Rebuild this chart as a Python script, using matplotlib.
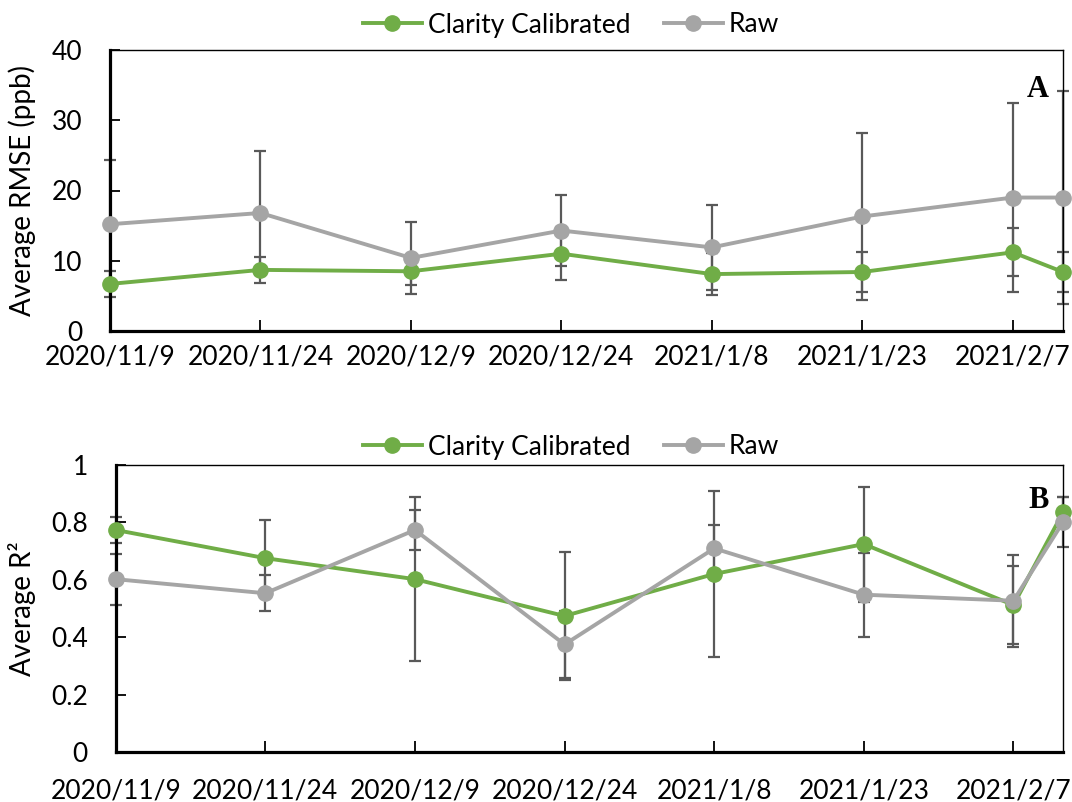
import matplotlib
matplotlib.use("Agg")
import matplotlib.pyplot as plt
from matplotlib.lines import Line2D
import datetime as dt

plt.rcParams['font.family'] = ['Lato', 'DejaVu Sans']

# ---- data ----
dates = ["2020-11-09", "2020-11-24", "2020-12-09", "2020-12-24",
         "2021-01-08", "2021-01-23", "2021-02-07", "2021-02-12"]
tick_dates = ["2020-11-09", "2020-11-24", "2020-12-09", "2020-12-24",
              "2021-01-08", "2021-01-23", "2021-02-07"]
tick_labels = ["2020/11/9", "2020/11/24", "2020/12/9", "2020/12/24",
               "2021/1/8", "2021/1/23", "2021/2/7"]
series_names = ["Clarity Calibrated", "Raw"]

rmse_cal = [6.7, 8.7, 8.5, 11.0, 8.1, 8.4, 11.2, 8.4]
rmse_cal_err = [1.9, 1.8, 1.9, 3.8, 3.0, 2.9, 3.4, 2.9]
rmse_raw = [15.2, 16.8, 10.4, 14.3, 11.9, 16.3, 19.0, 19.0]
rmse_raw_err = [9.1, 8.8, 5.1, 5.0, 6.1, 11.9, 13.5, 15.1]

r2_cal = [0.773, 0.675, 0.602, 0.474, 0.620, 0.724, 0.512, 0.836]
r2_cal_err = [0.045, 0.133, 0.286, 0.222, 0.288, 0.200, 0.135, 0.052]
r2_raw = [0.602, 0.553, 0.773, 0.375, 0.709, 0.548, 0.527, 0.802]
r2_raw_err = [0.089, 0.062, 0.070, 0.115, 0.080, 0.146, 0.160, 0.087]

GREEN = "#70AD47"
GRAY = "#A5A5A5"
ERR = "#595959"

x = [dt.datetime.strptime(d, "%Y-%m-%d") for d in dates]
xt = [dt.datetime.strptime(d, "%Y-%m-%d") for d in tick_dates]

W, H = 1072, 802
fig = plt.figure(figsize=(W / 100, H / 100), dpi=100)


def px_axes(l, t, r, b):
    return fig.add_axes([l / W, 1 - b / H, (r - l) / W, (b - t) / H])


ax1 = px_axes(110, 50, 1063, 331)
ax2 = px_axes(115.7, 464.7, 1063.3, 752.3)

FS = 19


def draw(ax, cal, cal_err, raw, raw_err, ylim, yticks, yticklabels, ylabel,
         letter, letter_y, label_x, xpad):
    ax.errorbar(x, cal, yerr=cal_err, fmt='none', ecolor=ERR, elinewidth=1.6,
                capsize=4.5, capthick=1.6, zorder=2, clip_on=False)
    ax.errorbar(x, raw, yerr=raw_err, fmt='none', ecolor=ERR, elinewidth=1.6,
                capsize=4.5, capthick=1.6, zorder=2, clip_on=False)
    ax.plot(x, cal, color=GREEN, lw=2.8, marker='o', ms=11, zorder=3,
            clip_on=False, label=series_names[0])
    ax.plot(x, raw, color=GRAY, lw=2.8, marker='o', ms=11, zorder=4,
            clip_on=False, label=series_names[1])
    ax.set_xlim(x[0], x[-1])
    ax.set_ylim(*ylim)
    ax.set_yticks(yticks)
    ax.set_yticklabels(yticklabels)
    ax.set_xticks(xt)
    ax.set_xticklabels(tick_labels)
    ax.tick_params(axis='y', direction='in', length=7, width=1.3, pad=20,
                   labelsize=FS)
    ax.tick_params(axis='x', direction='in', length=8, width=1.3, pad=xpad,
                   labelsize=FS)
    for s in ['left', 'bottom']:
        ax.spines[s].set_linewidth(2.3)
    for s in ['top', 'right']:
        ax.spines[s].set_linewidth(1.0)
    ax.set_ylabel(ylabel, fontsize=20)
    ax.yaxis.set_label_coords(label_x, 0.5)
    ax.text(0.974, letter_y, letter, transform=ax.transAxes,
            family='Liberation Serif', fontweight='bold', fontsize=22,
            ha='center', va='center')
    handles = [Line2D([], [], color=GREEN, lw=2.8, marker='o', ms=11),
               Line2D([], [], color=GRAY, lw=2.8, marker='o', ms=11)]
    return handles


LEG = dict(loc='center', ncol=2, frameon=False, fontsize=FS, handlelength=2.25,
           handletextpad=0.23, columnspacing=1.25)

h = draw(ax1, rmse_cal, rmse_cal_err, rmse_raw, rmse_raw_err, (0, 40),
         [0, 10, 20, 30, 40], ["0", "10", "20", "30", "40"],
         "Average RMSE (ppb)", 'A', 0.86, -0.078, 10)
fig.legend(h, series_names, bbox_to_anchor=(571 / W, 1 - 25 / H), **LEG)

h = draw(ax2, r2_cal, r2_cal_err, r2_raw, r2_raw_err, (0, 1),
         [0, 0.2, 0.4, 0.6, 0.8, 1], ["0", "0.2", "0.4", "0.6", "0.8", "1"],
         "Average R²", 'B', 0.874, -0.084, 19)
fig.legend(h, series_names, bbox_to_anchor=(571 / W, 1 - 447 / H), **LEG)

fig.savefig("out.png", dpi=100)
